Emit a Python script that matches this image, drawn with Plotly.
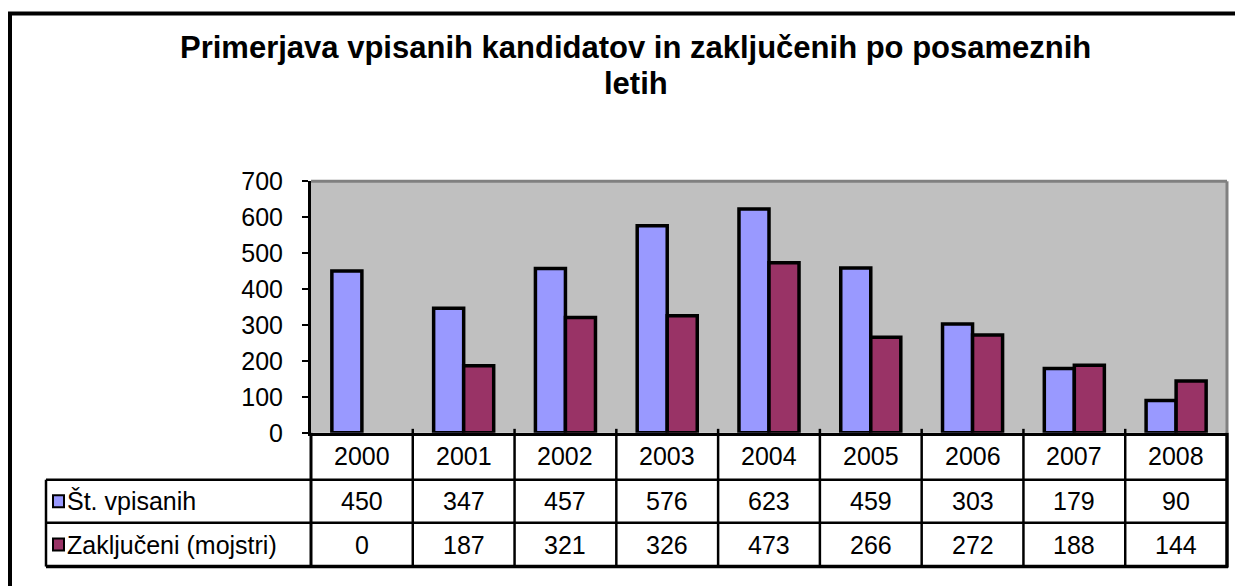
import plotly.graph_objects as go

# ---------------- data ----------------
years = ["2000", "2001", "2002", "2003", "2004", "2005", "2006", "2007", "2008"]
vpisani = [450, 347, 457, 576, 623, 459, 303, 179, 90]
zakljuceni = [0, 187, 321, 326, 473, 266, 272, 188, 144]
series_names = ["Št. vpisanih", "Zaključeni (mojstri)"]
series_colors = ["#9999FF", "#993366"]
y_ticks = [0, 100, 200, 300, 400, 500, 600, 700]
title_lines = ["Primerjava vpisanih kandidatov in zaključenih po posameznih", "letih"]

# ---------------- geometry ----------------
W, H = 1235, 586
FONT = "Liberation Sans, Arial, sans-serif"
TS = 25  # text size


def fx(p):
    return p / W


def fy(p):
    # vertical pixel -> paper fraction (with correction for capture offset)
    q = (p - 12.4) / 0.954
    return 1 - q / H


X0, X1 = 311, 1227        # plot area left/right (px)
YB, YT = 432, 180         # plot area bottom/top (px)
R0, R1, R2, R3 = 432, 479, 522, 566   # table row lines
LC = 46                   # legend column left edge

fig = go.Figure()
for name, vals, col in zip(series_names, [vpisani, zakljuceni], series_colors):
    fig.add_trace(go.Bar(
        x=list(range(len(years))), y=vals, name=name,
        marker=dict(color=col,
                    line=dict(color="black", width=[3.5 if v > 0 else 0 for v in vals])),
        showlegend=False, hoverinfo="skip",
    ))

shapes = []
black = "black"
# outer chart border (left & top visible)
shapes.append(dict(type="line", xref="paper", yref="paper",
                   x0=fx(10), x1=fx(10), y0=fy(12), y1=fy(640),
                   line=dict(color=black, width=4)))
shapes.append(dict(type="line", xref="paper", yref="paper",
                   x0=fx(8), x1=fx(1240), y0=fy(12), y1=fy(12),
                   line=dict(color=black, width=4)))
# plot area grey frame (top, right)
shapes.append(dict(type="line", xref="paper", yref="paper",
                   x0=fx(X0), x1=fx(X1), y0=fy(YT), y1=fy(YT),
                   line=dict(color="#808080", width=3)))
shapes.append(dict(type="line", xref="paper", yref="paper",
                   x0=fx(X1), x1=fx(X1), y0=fy(YT), y1=fy(YB),
                   line=dict(color="#808080", width=3)))
# table horizontal lines
for r, w in [(R1, 2.5), (R2, 2.5), (R3, 3.5)]:
    shapes.append(dict(type="line", xref="paper", yref="paper",
                       x0=fx(LC), x1=fx(X1 + 1), y0=fy(r), y1=fy(r),
                       line=dict(color=black, width=w)))
# table vertical lines
shapes.append(dict(type="line", xref="paper", yref="paper",
                   x0=fx(LC), x1=fx(LC), y0=fy(R1), y1=fy(R3),
                   line=dict(color=black, width=2.5)))
shapes.append(dict(type="line", xref="paper", yref="paper",
                   x0=fx(X0), x1=fx(X0), y0=fy(R0), y1=fy(R3),
                   line=dict(color=black, width=3)))
for i in range(1, len(years)):
    shapes.append(dict(type="line", xref="x", yref="paper",
                       x0=i - 0.5, x1=i - 0.5, y0=fy(R0 - 4), y1=fy(R3),
                       line=dict(color=black, width=2.5)))
shapes.append(dict(type="line", xref="paper", yref="paper",
                   x0=fx(X1), x1=fx(X1), y0=fy(R0), y1=fy(R3 + 1),
                   line=dict(color=black, width=3.5)))
# legend swatches
for rc, col in zip([(R1 + R2) / 2, (R2 + R3) / 2], series_colors):
    shapes.append(dict(type="rect", xref="paper", yref="paper",
                       x0=fx(53), x1=fx(64), y0=fy(rc - 6), y1=fy(rc + 6),
                       fillcolor=col, line=dict(color=black, width=2)))

annotations = []
for line, yc in zip(title_lines, [46, 82]):
    annotations.append(dict(xref="paper", yref="paper", x=fx(636), y=fy(yc),
                            xanchor="center", yanchor="middle", showarrow=False,
                            text="<b>" + line + "</b>",
                            font=dict(family=FONT, size=31, color=black)))
row_c = [(R0 + R1) / 2, (R1 + R2) / 2, (R2 + R3) / 2]
for i, yr in enumerate(years):
    for txt, rc in zip([yr, str(vpisani[i]), str(zakljuceni[i])], row_c):
        annotations.append(dict(xref="x", yref="paper", x=i, y=fy(rc),
                                text=txt, showarrow=False,
                                xanchor="center", yanchor="middle",
                                font=dict(family=FONT, size=TS, color=black)))
for name, rc in zip(series_names, row_c[1:]):
    annotations.append(dict(xref="paper", yref="paper", x=fx(65), y=fy(rc),
                            text=name, showarrow=False, xanchor="left", yanchor="middle",
                            font=dict(family=FONT, size=TS, color=black)))

fig.update_layout(
    width=W, height=H,
    margin=dict(l=0, r=0, t=0, b=0),
    paper_bgcolor="white",
    plot_bgcolor="#C0C0C0",
    barmode="group", bargap=0.41, bargroupgap=0,
    font=dict(family=FONT, size=TS, color=black),
    xaxis=dict(domain=[fx(X0), fx(X1)], range=[-0.5, 8.5],
               showticklabels=False, ticks="", showgrid=False, zeroline=False,
               showline=True, linecolor=black, linewidth=3),
    yaxis=dict(domain=[fy(YB), fy(YT)], range=[0, 700], tickvals=y_ticks,
               showgrid=False, zeroline=False, showline=True, linecolor=black,
               linewidth=3, ticks="outside", ticklen=6, tickwidth=2, tickcolor=black,
               ticklabelstandoff=14, tickfont=dict(family=FONT, size=TS, color=black)),
    shapes=shapes,
    annotations=annotations,
)

fig.write_html(
    "out.html",
    config={"displayModeBar": False, "staticPlot": True},
    post_script=(
        "document.documentElement.style.overflow='hidden';"
        "document.body.style.margin='0';document.body.style.padding='0';"
        "document.body.style.overflow='hidden';"
        "var gd=document.getElementById('{plot_id}');"
        "gd.style.position='fixed';gd.style.top='0px';gd.style.left='0px';"
    ),
)
